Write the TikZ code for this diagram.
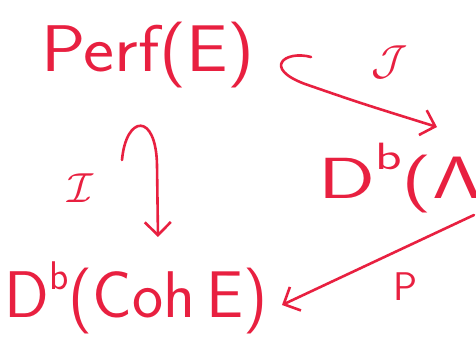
\documentclass[tikz,border=0pt]{standalone}
\usetikzlibrary{arrows.meta}
\definecolor{ink}{RGB}{232,32,64}
\newcommand{\supb}{\raisebox{0.42em}{\fontsize{40}{40}\selectfont b}}
\newcommand{\bigmath}[2]{\scalebox{#1}{$#2$}}
\begin{document}
\begin{tikzpicture}[x=1pt,y=1pt,
  obj/.style={text=ink, font=\sffamily\fontsize{66}{66}\selectfont, inner sep=0pt},
  lab/.style={text=ink, inner sep=0pt},
  arr/.style={draw=ink, line width=2.6pt, line cap=round, line join=round,
    -{Straight Barb[length=13pt,width=26pt,line width=2.6pt]}}]
\useasboundingbox (0,0) rectangle (476,-352);
\clip (0,0) rectangle (476,-352);
\node[obj] (perf) at (148,-55) {\scalebox{1.12}[1]{Perf(E)}};
\node[obj] (coh) at (136,-298) {D\supb(Coh\,E)};
\node[obj, font=\sffamily\fontsize{58}{58}\selectfont, anchor=west] (dl) at (318,-178) {\scalebox{1.45}[1]{D\raisebox{0.5em}{\fontsize{38}{38}\selectfont b}(\bigmath{2.4}{\mathsf{\Lambda}})}};
\coordinate (hs) at (311,-57);
\coordinate (ht) at (437,-127);
\coordinate (is) at (122,-160);
\coordinate (it) at (158,-237);
\coordinate (es) at (474,-215);
\coordinate (et) at (282,-305);
\draw[arr] (hs) .. controls (285,-50) and (262,-68) .. (305,-84) .. controls (360,-103) .. (ht);
\draw[arr] (is) .. controls (126,-115) and (156,-112) .. (157,-165) -- (it);
\draw[arr] (es) -- (et);
\node[lab] (lj) at (390,-62) {\bigmath{4.2}{\mathcal{J}}};
\node[lab] (li) at (80,-188) {\bigmath{4.2}{\mathcal{I}}};
\node[lab, font=\sffamily\fontsize{40}{40}\selectfont] (lp) at (405,-287) {P};
\end{tikzpicture}
\end{document}
